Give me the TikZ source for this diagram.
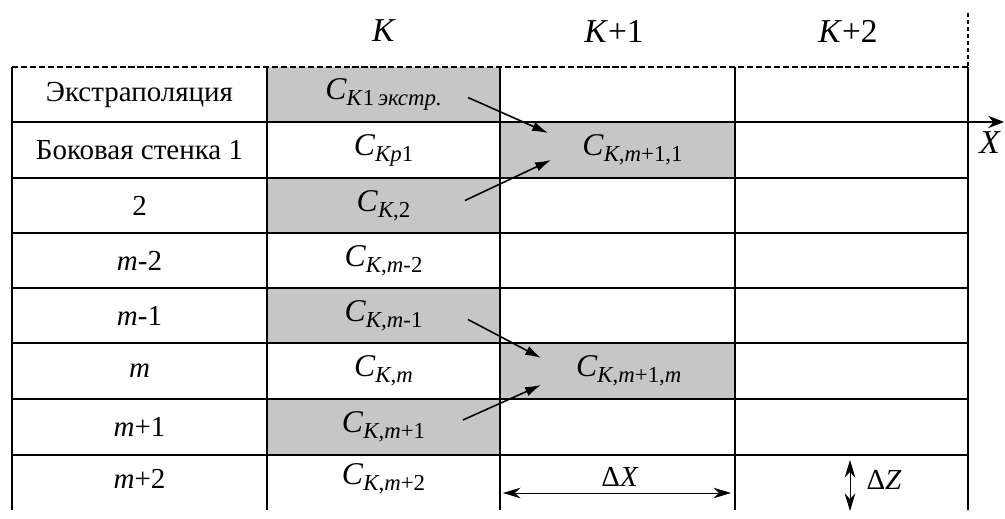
\documentclass[tikz,border=0pt]{standalone}
\usepackage{fontspec}
\setmainfont{Liberation Serif}
\usetikzlibrary{arrows.meta}
\definecolor{TabShade}{HTML}{C6C6C6}
\tikzset{
  tabcell/.style={
    minimum width=4.66cm,
    minimum height=1.1cm,
    inner sep=0pt,
    outer sep=0pt,
    align=center,
    font=\fontsize{16.5}{18}\selectfont
  },
  tabname/.style={tabcell,minimum width=5.1cm},
  tabshade/.style={tabcell,fill=TabShade},
  tabhead/.style={font=\fontsize{19}{22}\selectfont},
  tabgrid/.style={draw=black,line width=0.9pt},
  tabflow/.style={-{Latex[length=9pt,width=5.5pt]},line width=0.9pt},
  tabdim/.style={{Stealth[length=10pt,width=6pt]}-{Stealth[length=10pt,width=6pt]},line width=0.5pt}
}
\newcommand{\cval}[1]{{\fontsize{18}{20}\selectfont\textit{C}}\raisebox{-0.45ex}{\fontsize{13}{14}\selectfont #1}}

\begin{document}
\begin{tikzpicture}[x=0.02cm,y=-0.02cm]
  \useasboundingbox (0,0) rectangle (1005,519);
  % headers
  \node[tabhead] (hk) at (384,31) {\textit{K}};
  \node[tabhead] (hk1) at (614,31) {\textit{K}+1};
  \node[tabhead] (hk2) at (848,31) {\textit{K}+2};
  % first column
  \node[tabname] (r1) at (139.5,94.5) {Экстраполяция};
  \node[tabname] (r2) at (139.5,150) {Боковая стенка 1};
  \node[tabname] (r3) at (139.5,205.5) {2};
  \node[tabname] (r4) at (139.5,260.5) {\textit{m}-2};
  \node[tabname] (r5) at (139.5,315.5) {\textit{m}-1};
  \node[tabname] (r6) at (139.5,371) {\textit{m}};
  \node[tabname] (r7) at (139.5,427) {\textit{m}+1};
  \node[tabname] (r8) at (139.5,479) {\textit{m}+2};
  % column K
  \node[tabshade] (ce) at (383.5,94.5) {\cval{\textit{K}1\,\textit{экстр.}}};
  \node[tabcell] (ckp) at (383.5,150) {\cval{\textit{Kp}1}};
  \node[tabshade] (ck2) at (383.5,205.5) {\cval{\textit{K},2}};
  \node[tabcell] (ckm2) at (383.5,260.5) {\cval{\textit{K},\textit{m}-2}};
  \node[tabshade] (ckm1) at (383.5,315.5) {\cval{\textit{K},\textit{m}-1}};
  \node[tabcell] (ckm) at (383.5,371) {\cval{\textit{K},\textit{m}}};
  \node[tabshade] (ckq1) at (383.5,427) {\cval{\textit{K},\textit{m}+1}};
  \node[tabcell] (ckq2) at (383.5,479) {\cval{\textit{K},\textit{m}+2}};
  % column K+1
  \node[tabshade] (cn1) at (617.5,150) {\hspace{0.6cm}\cval{\textit{K},\textit{m}+1,1}};
  \node[tabshade] (cnm) at (617.5,371) {\hspace{0.45cm}\cval{\textit{K},\textit{m}+1,\textit{m}}};
  % grid
  \foreach \yy in {178,233,288,343,399,455}
    \draw[tabgrid] (12,\yy) -- (968,\yy);
  \foreach \xx in {12,267,500,735,968}
    \draw[tabgrid] (\xx,67) -- (\xx,510);
  \draw[tabgrid,dash pattern=on 3.5pt off 1.6pt] (12,67) -- (968,67);
  \draw[tabgrid,dash pattern=on 2pt off 2pt] (968,13) -- (968,67);
  % axis X
  \coordinate (xend) at (1004,122);
  \draw[tabgrid,-{Stealth[length=9pt,width=7pt]}] (12,122) -- (xend);
  \node[tabhead] (xlab) at (990,143) {\textit{X}};
  % transfer arrows
  \draw[tabflow] ([shift={(-32,3)}]ce.east) -- ([shift={(47,-17)}]cn1.west);
  \draw[tabflow] ([shift={(-35,-5)}]ck2.east) -- ([shift={(50,10)}]cn1.west);
  \draw[tabflow] ([shift={(-32,4)}]ckm1.east) -- ([shift={(40,-13)}]cnm.west);
  \draw[tabflow] ([shift={(-37,-7)}]ckq1.east) -- ([shift={(40,14)}]cnm.west);
  % steps
  \coordinate (dxl) at (503,493);
  \coordinate (dxr) at (731,493);
  \draw[tabdim] (dxl) -- (dxr);
  \node[tabcell,minimum width=0pt,minimum height=0pt] (dxlab) at (620,477) {Δ\textit{X}};
  \coordinate (dzt) at (850,460);
  \coordinate (dzb) at (850,511);
  \draw[tabdim] (dzt) -- (dzb);
  \node[tabcell,minimum width=0pt,minimum height=0pt] (dzlab) at (884,480) {Δ\textit{Z}};
\end{tikzpicture}
\end{document}
